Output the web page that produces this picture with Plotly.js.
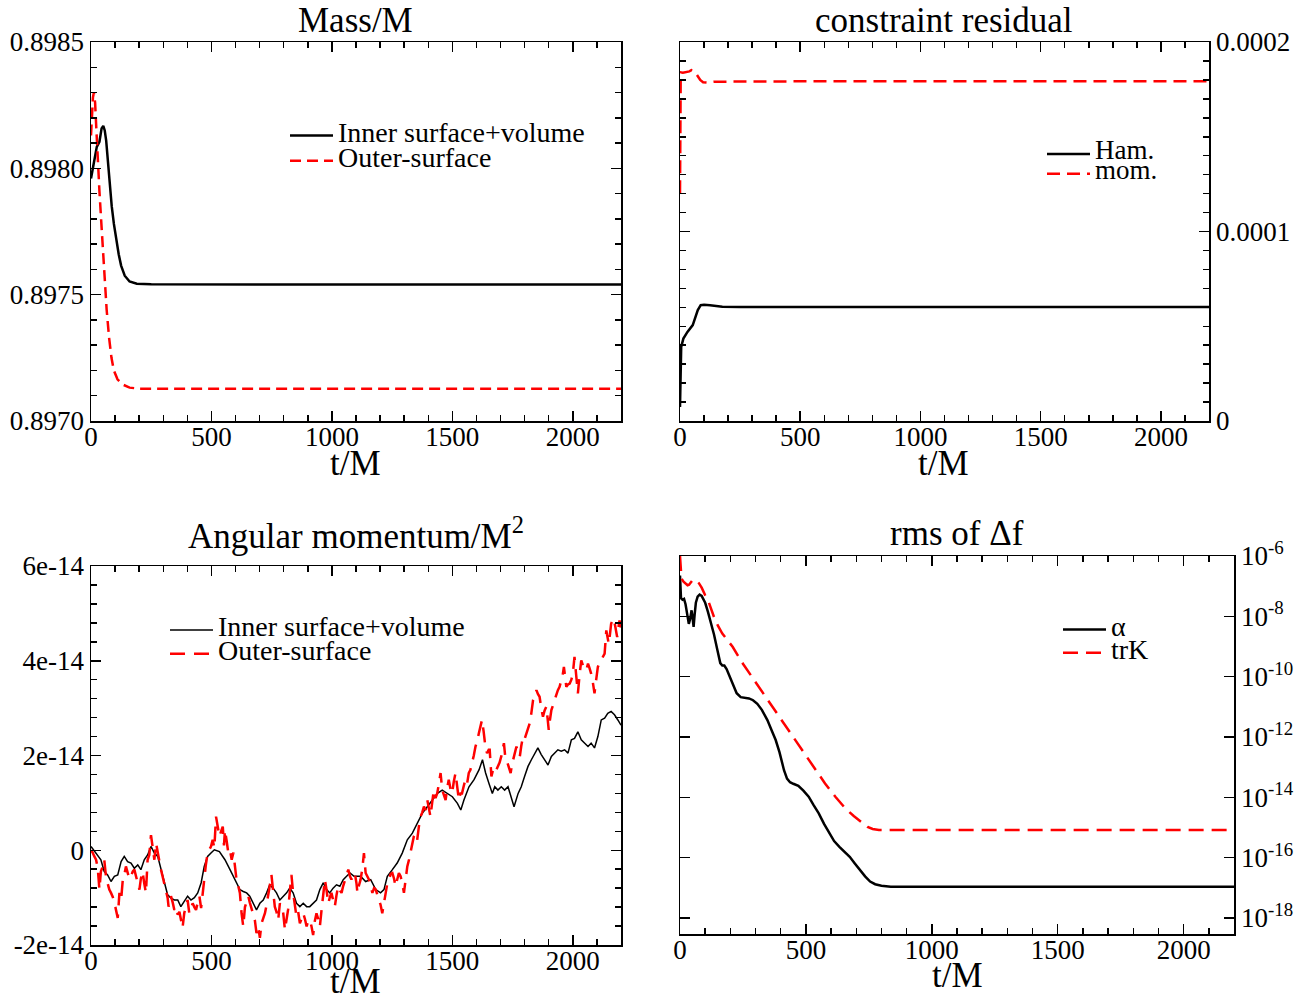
<!DOCTYPE html>
<html>
<head>
<meta charset="utf-8">
<script src="https://cdn.plot.ly/plotly-3.0.1.min.js"></script>
<style>
  html, body { margin: 0; padding: 0; background: #fff; }
  #chart { width: 1306px; height: 1000px; }
</style>
</head>
<body>
<div id="chart"></div>
<script>
// ---------------- Data ----------------
// Panel 1: Mass/M
const massInnerT = [0, 12, 24, 35, 44, 51, 57, 63, 70, 78, 86, 95, 105, 115, 125, 140, 160, 190, 250, 500, 1000, 1500, 2000, 2200];
const massInner  = [0.897960, 0.898020, 0.898085, 0.898105, 0.898158, 0.898168, 0.898150, 0.898110, 0.898030, 0.897935, 0.897850, 0.897780, 0.897715, 0.897660, 0.897615, 0.897575, 0.897552, 0.897543, 0.897541, 0.897540, 0.897540, 0.897540, 0.897540, 0.897540];
const massOuterT = [0, 4, 8, 12, 17, 23, 29, 35, 45, 55, 65, 75, 85, 95, 110, 130, 160, 200, 500, 1000, 1500, 2000, 2200];
const massOuter  = [0.898130, 0.898220, 0.898280, 0.898300, 0.898260, 0.898140, 0.898010, 0.897910, 0.897750, 0.897580, 0.897440, 0.897330, 0.897250, 0.897200, 0.897165, 0.897145, 0.897132, 0.897128, 0.897128, 0.897128, 0.897128, 0.897128, 0.897128];

// Panel 2: constraint residual
const hamT = [0, 2, 5, 14, 31, 53, 65, 74, 86, 100, 125, 150, 176, 250, 500, 1000, 1500, 2000, 2200];
const ham  = [0.0000074, 0.000030, 0.0000391, 0.0000435, 0.0000470, 0.0000506, 0.0000550, 0.0000585, 0.0000611, 0.0000613, 0.0000611, 0.0000606, 0.0000603, 0.0000601, 0.0000601, 0.0000601, 0.0000601, 0.0000601, 0.0000601];
const momT = [0, 1, 3, 12, 22, 39, 48, 56, 66, 74, 84, 96, 116, 140, 300, 1000, 1500, 2000, 2200];
const mom  = [0.0001202, 0.000160, 0.0001840, 0.0001838, 0.0001840, 0.0001845, 0.0001852, 0.0001850, 0.0001835, 0.0001820, 0.0001800, 0.0001788, 0.0001786, 0.0001790, 0.0001792, 0.0001793, 0.0001793, 0.0001793, 0.0001793];

// Panel 3: Angular momentum/M^2 (values in units of 1e-14)
const angUnit = 1e-14;
const angInnerT = [0, 21, 41, 55, 69, 83, 97, 111, 125, 138, 152, 166, 180, 194, 207, 221, 235, 249, 263, 277, 290, 304, 318, 332, 346, 360, 373, 387, 401, 415, 429, 443, 457, 470, 484, 498, 512, 533, 556, 577, 597, 618, 632, 646, 659, 673, 687, 701, 715, 729, 742, 756, 770, 784, 798, 812, 825, 839, 853, 867, 881, 895, 908, 922, 936, 950, 964, 978, 991, 1005, 1019, 1033, 1047, 1061, 1075, 1092, 1119, 1140, 1161, 1182, 1202, 1216, 1230, 1251, 1271, 1292, 1313, 1334, 1355, 1375, 1396, 1417, 1438, 1458, 1479, 1500, 1521, 1535, 1548, 1569, 1590, 1611, 1625, 1638, 1652, 1666, 1676, 1689, 1703, 1717, 1731, 1745, 1756, 1773, 1786, 1800, 1814, 1828, 1842, 1855, 1869, 1883, 1897, 1911, 1924, 1938, 1952, 1966, 1980, 1994, 2007, 2021, 2035, 2049, 2063, 2076, 2090, 2104, 2118, 2132, 2145, 2159, 2173, 2187, 2200];
const angInner  = [0.08, -0.06, -0.20, -0.45, -0.52, -0.66, -0.55, -0.52, -0.24, -0.13, -0.24, -0.27, -0.38, -0.31, -0.41, -0.20, -0.10, 0.08, -0.06, -0.13, -0.38, -0.62, -0.94, -1.01, -1.05, -1.05, -1.19, -1.08, -0.97, -1.05, -1.00, -0.90, -0.69, -0.34, -0.13, -0.06, 0.01, -0.03, -0.20, -0.41, -0.62, -0.83, -0.87, -0.90, -0.97, -1.12, -1.26, -1.12, -1.05, -0.90, -0.73, -0.80, -0.90, -1.05, -0.97, -0.90, -0.80, -0.90, -1.12, -1.19, -1.12, -1.19, -1.19, -1.12, -1.05, -0.83, -0.69, -0.83, -0.90, -0.80, -0.73, -0.76, -0.62, -0.55, -0.48, -0.55, -0.55, -0.66, -0.62, -0.83, -0.90, -0.83, -0.55, -0.41, -0.27, -0.06, 0.22, 0.36, 0.57, 0.78, 0.92, 1.06, 1.20, 1.27, 1.20, 1.13, 0.99, 0.85, 1.06, 1.34, 1.49, 1.70, 1.91, 1.63, 1.41, 1.20, 1.34, 1.27, 1.34, 1.27, 1.34, 1.13, 0.92, 1.20, 1.34, 1.56, 1.77, 1.91, 2.05, 2.16, 2.02, 1.91, 1.80, 1.98, 2.05, 2.12, 2.09, 2.12, 2.05, 2.33, 2.36, 2.50, 2.33, 2.26, 2.19, 2.26, 2.16, 2.40, 2.75, 2.79, 2.89, 2.93, 2.86, 2.75, 2.64];
const angOuterT = [0, 7, 14, 21, 28, 35, 41, 48, 55, 62, 69, 76, 83, 90, 97, 104, 111, 118, 125, 132, 139, 145, 152, 159, 166, 173, 180, 187, 194, 201, 207, 214, 221, 228, 235, 242, 249, 256, 263, 270, 277, 284, 290, 297, 304, 311, 318, 322, 332, 339, 346, 353, 360, 367, 373, 380, 387, 394, 401, 408, 415, 422, 429, 436, 443, 450, 457, 463, 470, 477, 484, 491, 498, 505, 512, 519, 526, 533, 540, 547, 552, 556, 563, 570, 577, 584, 591, 597, 604, 611, 618, 625, 632, 639, 646, 653, 659, 666, 673, 680, 687, 694, 701, 708, 715, 722, 729, 736, 742, 749, 756, 763, 770, 777, 784, 791, 798, 805, 812, 818, 825, 832, 839, 846, 853, 860, 867, 874, 881, 888, 895, 901, 908, 915, 922, 929, 936, 943, 950, 957, 964, 971, 978, 985, 991, 998, 1005, 1012, 1019, 1026, 1033, 1040, 1047, 1054, 1061, 1068, 1075, 1081, 1088, 1095, 1102, 1106, 1112, 1119, 1126, 1133, 1140, 1147, 1154, 1161, 1168, 1175, 1182, 1189, 1195, 1202, 1209, 1216, 1223, 1230, 1237, 1244, 1251, 1258, 1264, 1271, 1278, 1285, 1292, 1299, 1306, 1313, 1320, 1326, 1333, 1340, 1347, 1354, 1361, 1368, 1375, 1382, 1389, 1396, 1402, 1409, 1416, 1423, 1430, 1437, 1444, 1451, 1458, 1465, 1472, 1478, 1485, 1492, 1499, 1506, 1513, 1520, 1527, 1534, 1540, 1547, 1554, 1561, 1568, 1575, 1582, 1589, 1596, 1603, 1610, 1617, 1623, 1630, 1637, 1644, 1651, 1655, 1658, 1662, 1669, 1676, 1683, 1689, 1696, 1703, 1709, 1714, 1719, 1724, 1731, 1737, 1742, 1747, 1752, 1759, 1766, 1773, 1780, 1786, 1793, 1800, 1807, 1814, 1821, 1828, 1835, 1842, 1849, 1855, 1862, 1869, 1876, 1883, 1890, 1895, 1900, 1905, 1911, 1917, 1924, 1931, 1938, 1945, 1952, 1958, 1963, 1968, 1973, 1980, 1987, 1994, 2000, 2007, 2014, 2021, 2028, 2035, 2042, 2049, 2056, 2063, 2069, 2076, 2083, 2090, 2097, 2104, 2111, 2118, 2125, 2132, 2139, 2144, 2149, 2154, 2159, 2165, 2170, 2177, 2184, 2189, 2194, 2200];
const angOuter  = [0.00, -0.05, -0.13, -0.20, -0.38, -0.83, -0.45, -0.35, -0.20, -0.55, -0.70, -0.83, -0.90, -0.98, -1.10, -1.26, -1.43, -0.90, -1.05, -0.62, -0.50, -0.34, -0.45, -0.60, -0.55, -0.45, -0.41, -0.55, -0.69, -0.83, -0.60, -0.45, -0.70, -0.90, -0.20, -0.10, 0.32, 0.00, -0.20, 0.15, -0.05, -0.27, -0.40, -0.55, -0.70, -0.83, -1.00, -1.19, -0.97, -1.10, -1.26, -1.20, -1.36, -1.30, -1.47, -1.64, -1.33, -1.20, -1.05, -1.33, -1.20, -1.12, -1.20, -1.26, -1.10, -0.97, -1.22, -0.90, -0.62, -0.30, -0.06, 0.00, 0.08, 0.22, 0.05, 0.71, 0.45, 0.29, 0.40, 0.50, 0.10, 0.43, 0.20, -0.06, 0.00, -0.20, -0.05, -0.35, -0.62, -0.75, -0.90, -1.33, -1.61, -1.20, -1.10, -0.97, -1.10, -1.26, -1.35, -1.47, -1.75, -1.61, -1.85, -1.54, -1.45, -1.33, -1.15, -0.97, -0.75, -0.52, -0.90, -1.19, -1.30, -1.47, -1.12, -1.20, -1.33, -1.68, -1.45, -1.26, -0.90, -0.52, -0.90, -1.20, -1.40, -1.30, -1.54, -1.45, -1.33, -1.45, -1.61, -1.50, -1.47, -1.60, -1.79, -1.50, -1.33, -1.45, -1.61, -1.26, -0.90, -0.62, -0.85, -1.12, -1.00, -0.90, -1.05, -1.19, -0.95, -0.76, -0.85, -0.90, -0.75, -0.62, -0.50, -0.41, -0.55, -0.62, -0.50, -0.48, -0.70, -0.90, -0.75, -0.62, -0.40, -0.06, -0.48, -0.55, -0.62, -0.75, -0.90, -0.80, -0.83, -0.95, -1.05, -1.15, -1.33, -1.10, -0.83, -0.70, -0.62, -0.50, -0.48, -0.60, -0.76, -0.60, -0.48, -0.55, -0.69, -0.90, -0.60, -0.34, -0.20, -0.06, 0.10, 0.29, 0.35, 0.22, 0.50, 0.71, 0.80, 0.92, 0.85, 1.06, 0.90, 0.71, 1.00, 1.27, 1.10, 1.20, 1.40, 1.63, 1.27, 1.15, 1.06, 1.30, 1.49, 1.30, 1.20, 1.45, 1.63, 1.35, 1.06, 1.20, 1.20, 1.35, 1.49, 1.40, 1.63, 1.70, 1.84, 2.00, 2.19, 2.30, 2.47, 2.60, 2.75, 2.50, 2.19, 2.05, 2.12, 2.12, 1.84, 1.56, 1.70, 1.63, 1.70, 1.77, 1.85, 1.98, 2.10, 2.26, 2.00, 1.91, 1.77, 1.70, 1.63, 1.80, 1.91, 2.05, 2.19, 2.05, 1.98, 2.20, 2.40, 2.35, 2.47, 2.55, 2.68, 2.90, 3.17, 3.25, 3.38, 3.30, 3.24, 3.00, 2.82, 2.95, 3.03, 2.80, 2.54, 2.75, 2.96, 3.05, 3.17, 3.25, 3.38, 3.45, 3.59, 3.70, 3.87, 3.60, 3.45, 3.50, 3.52, 3.60, 3.73, 4.08, 3.70, 3.31, 3.70, 4.01, 3.90, 3.87, 3.80, 3.94, 3.85, 3.73, 3.55, 3.31, 3.60, 3.87, 3.95, 4.01, 4.10, 4.15, 4.64, 4.50, 4.36, 4.55, 4.78, 4.85, 4.89, 4.70, 4.50, 4.70, 4.85, 4.70];

// Panel 4: rms of Δf (log10 of value)
const alphaT   = [0, 4, 10, 16, 22, 29, 35, 40, 46, 50, 54, 58, 63, 70, 78, 86, 100, 111, 125, 135, 148, 160, 168, 176, 185, 195, 210, 225, 241, 258, 274, 290, 307, 325, 347, 365, 380, 395, 413, 425, 437, 450, 470, 490, 511, 530, 551, 572, 592, 612, 633, 655, 674, 695, 714, 735, 755, 775, 800, 837, 1000, 1500, 2000, 2200];
const alphaLog = [-6.65, -7.40, -7.45, -7.42, -7.60, -7.95, -8.25, -8.10, -7.80, -8.05, -8.35, -7.95, -7.55, -7.35, -7.28, -7.32, -7.55, -7.85, -8.25, -8.60, -9.10, -9.55, -9.63, -9.63, -9.75, -9.95, -10.30, -10.55, -10.68, -10.70, -10.72, -10.78, -10.90, -11.10, -11.44, -11.80, -12.10, -12.50, -13.10, -13.38, -13.50, -13.55, -13.62, -13.78, -13.98, -14.25, -14.53, -14.88, -15.19, -15.45, -15.64, -15.82, -15.97, -16.20, -16.41, -16.62, -16.79, -16.88, -16.93, -16.96, -16.96, -16.96, -16.96, -16.96];
const trKT   = [0, 2, 6, 14, 22, 30, 36, 42, 48, 56, 64, 75, 86, 100, 115, 135, 150, 168, 190, 209, 230, 250, 290, 331, 372, 413, 454, 494, 535, 576, 617, 657, 690, 723, 745, 765, 790, 1000, 1500, 2000, 2200];
const trKLog = [-6.00, -6.45, -6.75, -6.85, -6.92, -6.97, -6.95, -6.88, -6.82, -6.78, -6.80, -6.90, -7.05, -7.30, -7.55, -8.02, -8.30, -8.57, -8.80, -9.01, -9.30, -9.57, -10.06, -10.56, -11.05, -11.55, -12.05, -12.55, -13.04, -13.54, -13.98, -14.37, -14.62, -14.85, -14.98, -15.05, -15.08, -15.08, -15.08, -15.08, -15.08];

// Tick labels
const angTickVals = [-2, 0, 2, 4, 6];
const angTickText = ['-2e-14', '0', '2e-14', '4e-14', '6e-14'];
const rmsTickExp  = [-6, -8, -10, -12, -14, -16, -18];

// ---------------- Style ----------------
const FONT = '"Liberation Serif", "Times New Roman", Times, serif';
const BLACK = '#000000', RED = '#ff0000';
const tickFont = { family: FONT, size: 27, color: BLACK };
const titleFont = { family: FONT, size: 35, color: BLACK };

function frame(extra) {
  return Object.assign({
    showline: true, linecolor: BLACK, linewidth: 1.5, mirror: 'ticks',
    ticks: 'inside', ticklen: 10, tickwidth: 1.5, tickcolor: BLACK,
    showgrid: false, zeroline: false, automargin: false, fixedrange: true,
    tickfont: tickFont
  }, extra);
}
function xAxis(domain, anchor) {
  return frame({
    domain: domain, anchor: anchor, range: [0, 2200], tick0: 0, dtick: 500,
    ticklabelstandoff: -9,
    minor: { dtick: 100, tick0: 0, ticks: 'inside', ticklen: 6, tickwidth: 1.5, tickcolor: BLACK, showgrid: false }
  });
}
const W = 1306, H = 1000;
const dx = (a, b) => [a / W, b / W];
const dy = (top, bottom) => [1 - bottom / H, 1 - top / H];

function legendName(txt, size) {
  return '<span style="font-size:' + size + 'px">' + txt + '</span>';
}

const traces = [
  { x: massInnerT, y: massInner, xaxis: 'x', yaxis: 'y', mode: 'lines', name: legendName('Inner surface+volume', 28),
    line: { color: BLACK, width: 2.5 }, legend: 'legend' },
  { x: massOuterT, y: massOuter, xaxis: 'x', yaxis: 'y', mode: 'lines', name: legendName('Outer-surface', 28),
    line: { color: RED, width: 2.5, dash: '11px,6px' }, legend: 'legend' },

  { x: hamT, y: ham, xaxis: 'x2', yaxis: 'y2', mode: 'lines', name: legendName('Ham.', 27),
    line: { color: BLACK, width: 2.5 }, legend: 'legend2' },
  { x: momT, y: mom, xaxis: 'x2', yaxis: 'y2', mode: 'lines', name: legendName('mom.', 27),
    line: { color: RED, width: 2.5, dash: '13px,7px' }, legend: 'legend2' },

  { x: angInnerT, y: angInner.map(v => v * angUnit), xaxis: 'x3', yaxis: 'y3', mode: 'lines', name: legendName('Inner surface+volume', 28),
    line: { color: BLACK, width: 1.5 }, legend: 'legend3' },
  { x: angOuterT, y: angOuter.map(v => v * angUnit), xaxis: 'x3', yaxis: 'y3', mode: 'lines', name: legendName('Outer-surface', 28),
    line: { color: RED, width: 2.5, dash: '15px,9px' }, legend: 'legend3' },

  { x: alphaT, y: alphaLog.map(v => Math.pow(10, v)), xaxis: 'x4', yaxis: 'y4', mode: 'lines', name: legendName('α', 28),
    line: { color: BLACK, width: 2.5 }, legend: 'legend4' },
  { x: trKT, y: trKLog.map(v => Math.pow(10, v)), xaxis: 'x4', yaxis: 'y4', mode: 'lines', name: legendName('trK', 28),
    line: { color: RED, width: 2.5, dash: '15px,8px' }, legend: 'legend4' }
];

function legendBox(x, y, size) {
  return { x: x / W, y: 1 - y / H, xanchor: 'left', yanchor: 'top', bgcolor: 'rgba(0,0,0,0)', borderwidth: 0,
           font: { family: FONT, size: size, color: BLACK }, itemwidth: 43, itemclick: false, itemdoubleclick: false,
           tracegroupgap: 0 };
}

const layout = {
  width: W, height: H,
  margin: { l: 0, r: 0, t: 0, b: 0 },
  paper_bgcolor: '#fff', plot_bgcolor: '#fff',
  font: { family: FONT, color: BLACK },
  showlegend: true,
  xaxis: xAxis(dx(91, 621), 'y'),
  yaxis: frame({ domain: dy(42, 421), anchor: 'x', range: [0.8970, 0.8985], tick0: 0.897, dtick: 0.0005, tickformat: '.4f',
    minor: { dtick: 0.0001, tick0: 0.897, ticks: 'inside', ticklen: 6, tickwidth: 1.5, tickcolor: BLACK, showgrid: false } }),
  xaxis2: xAxis(dx(680, 1209), 'y2'),
  yaxis2: frame({ domain: dy(42, 421), anchor: 'x2', side: 'right', range: [0, 0.0002], tick0: 0, dtick: 0.0001, tickformat: '.4~f',
    minor: { dtick: 0.00001, tick0: 0, ticks: 'inside', ticklen: 6, tickwidth: 1.5, tickcolor: BLACK, showgrid: false } }),
  xaxis3: xAxis(dx(91, 621), 'y3'),
  yaxis3: frame({ domain: dy(566, 945), anchor: 'x3', range: [-2e-14, 6e-14], tickmode: 'array',
    tickvals: angTickVals.map(v => v * angUnit), ticktext: angTickText,
    minor: { tickmode: 'linear', dtick: 0.4e-14, tick0: 0, ticks: 'inside', ticklen: 6, tickwidth: 1.5, tickcolor: BLACK, showgrid: false } }),
  xaxis4: xAxis(dx(680, 1234), 'y4'),
  yaxis4: frame({ domain: dy(556, 934), anchor: 'x4', side: 'right', type: 'log', range: [-18.53, -6], tickmode: 'array',
    tickvals: rmsTickExp.map(e => Math.pow(10, e)), ticktext: rmsTickExp.map(e => '10<sup>' + e + '</sup>') }),
  legend: legendBox(285, 118, 17),
  legend2: legendBox(1042, 139, 13),
  legend3: legendBox(165, 613, 16),
  legend4: legendBox(1058, 613, 15.5),
  annotations: [
    { text: 'Mass/M', x: 356 / W, y: 1 - 20 / H },
    { text: 'constraint residual', x: 944 / W, y: 1 - 20 / H },
    { text: 'Angular momentum/M<sup>2</sup>', x: 356 / W, y: 1 - 533 / H },
    { text: 'rms of Δf', x: 957 / W, y: 1 - 533 / H },
    { text: 't/M', x: 356 / W, y: 1 - 463 / H },
    { text: 't/M', x: 944 / W, y: 1 - 463 / H },
    { text: 't/M', x: 356 / W, y: 1 - 981 / H },
    { text: 't/M', x: 957 / W, y: 1 - 975 / H }
  ].map(a => Object.assign({ xref: 'paper', yref: 'paper', xanchor: 'center', yanchor: 'middle', showarrow: false, font: titleFont }, a))
};

Plotly.newPlot('chart', traces, layout, { displayModeBar: false, staticPlot: true });
</script>
</body>
</html>
